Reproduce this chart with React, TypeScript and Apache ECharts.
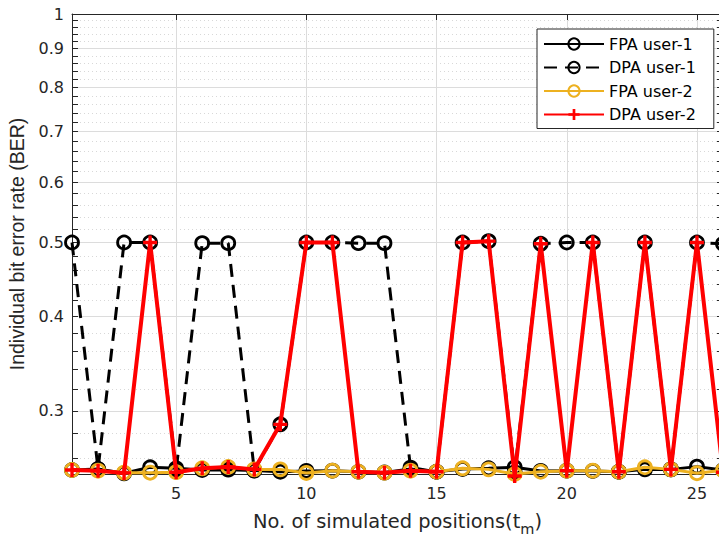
import React, { useEffect, useRef } from 'react';
import * as echarts from 'echarts';

const positions = [1, 2, 3, 4, 5, 6, 7, 8, 9, 10, 11, 12, 13, 14, 15, 16, 17, 18, 19, 20, 21, 22, 23, 24, 25, 26];
const fpaUser1 = [0.2507, 0.2515, 0.2482, 0.2528, 0.2520, 0.2507, 0.2510, 0.2503, 0.2494, 0.2500, 0.2502, 0.2494, 0.2488, 0.2515, 0.2494, 0.2515, 0.2520, 0.2528, 0.2500, 0.2502, 0.2500, 0.2494, 0.2512, 0.2512, 0.2533, 0.2507];
const dpaUser1 = [0.500, 0.2515, 0.500, 0.500, 0.2505, 0.499, 0.499, 0.2505, 0.288, 0.500, 0.500, 0.499, 0.499, 0.2525, 0.2494, 0.500, 0.502, 0.2490, 0.498, 0.500, 0.500, 0.2494, 0.500, 0.2512, 0.500, 0.498];
const fpaUser2 = [0.2507, 0.2502, 0.2487, 0.2487, 0.2491, 0.2520, 0.2530, 0.2512, 0.2512, 0.2485, 0.2502, 0.2494, 0.2487, 0.2502, 0.2494, 0.2520, 0.2512, 0.2477, 0.2494, 0.2502, 0.2502, 0.2494, 0.2528, 0.2512, 0.2483, 0.2505];
const dpaUser2 = [0.2507, 0.2502, 0.2485, 0.500, 0.2490, 0.2520, 0.2530, 0.2512, 0.288, 0.500, 0.500, 0.2494, 0.2487, 0.2502, 0.2494, 0.500, 0.502, 0.2462, 0.498, 0.2502, 0.500, 0.2494, 0.500, 0.2512, 0.500, 0.2490];

const seriesNames = ['FPA user-1', 'DPA user-1', 'FPA user-2', 'DPA user-2'];
const xTicks = [5, 10, 15, 20, 25];
const yMajorTicks = [0.3, 0.4, 0.5, 0.6, 0.7, 0.8, 0.9, 1];
const yMinorTicks = [0.26, 0.28, 0.3, 0.32, 0.34, 0.36, 0.38, 0.4, 0.42, 0.44, 0.46, 0.48, 0.5, 0.52, 0.54, 0.56, 0.58, 0.6, 0.62, 0.64, 0.66, 0.68, 0.7, 0.72, 0.74, 0.76, 0.78, 0.8, 0.82, 0.84, 0.86, 0.88, 0.9, 0.92, 0.94, 0.96, 0.98, 1];

const X_MIN = 1;
const X_MAX = 26;
const Y_MIN = 0.2477;
const Y_MAX = 1;

const AXIS_COLOR = '#262626';
const PLUS = 'path://M3.8,0H6.2V3.8H10V6.2H6.2V10H3.8V6.2H0V3.8H3.8Z';

export default function App() {
  const ref = useRef<HTMLDivElement>(null);

  useEffect(() => {
    if (!ref.current) return;
    const chart = echarts.init(ref.current, null, { renderer: 'svg' });

    const pair = (vals: number[]) => positions.map((x, i) => [x, vals[i]]);
    const gridRect = { left: 72, right: 7, top: 14, bottom: 64, containLabel: false, outerBoundsMode: 'none' };

    const option: any = {
      animation: false,
      backgroundColor: '#ffffff',
      grid: [{ ...gridRect }, { ...gridRect }],
      xAxis: [
        {
          type: 'value', gridIndex: 0, position: 'bottom', min: X_MIN, max: X_MAX,
          axisLine: { show: true, onZero: false, lineStyle: { color: AXIS_COLOR, width: 1 } },
          axisTick: { show: true, inside: true, length: 6, customValues: xTicks, lineStyle: { color: AXIS_COLOR } },
          axisLabel: { show: true, customValues: xTicks, margin: 11, fontFamily: 'DejaVu Sans', fontSize: 16, color: AXIS_COLOR },
          splitLine: { show: true, lineStyle: { color: '#dcdcdc', width: 1 } },
          name: '{a|No. of simulated positions(t}{b|m}{a|)}',
          nameLocation: 'middle',
          nameGap: 32,
          nameTextStyle: {
            rich: {
              a: { fontFamily: 'DejaVu Sans', fontSize: 19.4, color: AXIS_COLOR, lineHeight: 30, verticalAlign: 'middle' },
              b: { fontFamily: 'DejaVu Sans', fontSize: 14.5, color: AXIS_COLOR, verticalAlign: 'bottom' },
            },
          },
        },
        {
          type: 'value', gridIndex: 0, position: 'top', min: X_MIN, max: X_MAX,
          axisLine: { show: true, onZero: false, lineStyle: { color: AXIS_COLOR, width: 1 } },
          axisTick: { show: true, inside: true, length: 6, customValues: xTicks, lineStyle: { color: AXIS_COLOR } },
          axisLabel: { show: false },
          splitLine: { show: false },
        },
        {
          type: 'value', gridIndex: 1, position: 'bottom', min: X_MIN, max: X_MAX,
          axisLine: { show: false }, axisTick: { show: false }, axisLabel: { show: false }, splitLine: { show: false },
        },
      ],
      yAxis: [
        {
          type: 'log', logBase: 10, gridIndex: 0, position: 'left', min: Y_MIN, max: Y_MAX,
          axisLine: { show: true, onZero: false, lineStyle: { color: AXIS_COLOR, width: 1 } },
          axisTick: { show: true, inside: true, length: 6, customValues: yMinorTicks, lineStyle: { color: AXIS_COLOR } },
          axisLabel: {
            show: true, customValues: yMajorTicks, margin: 8, fontFamily: 'DejaVu Sans', fontSize: 16, color: AXIS_COLOR,
            formatter: (v: number) => String(Math.round(v * 10) / 10),
          },
          splitLine: { show: true, lineStyle: { color: '#d8d8d8', width: 1, type: [1, 3] } },
          name: 'Individual bit error rate (BER)',
          nameLocation: 'middle',
          nameGap: 45,
          nameRotate: 90,
          nameTextStyle: { fontFamily: 'Liberation Sans', fontSize: 19.5, color: AXIS_COLOR },
        },
        {
          type: 'log', logBase: 10, gridIndex: 0, position: 'right', min: Y_MIN, max: Y_MAX,
          axisLine: { show: true, onZero: false, lineStyle: { color: AXIS_COLOR, width: 1 } },
          axisTick: { show: true, inside: true, length: 6, customValues: yMinorTicks, lineStyle: { color: AXIS_COLOR } },
          axisLabel: { show: false },
          splitLine: { show: false },
        },
        {
          type: 'log', logBase: 10, gridIndex: 1, position: 'left', min: Y_MIN, max: Y_MAX,
          axisLine: { show: false },
          axisTick: { show: false, customValues: yMajorTicks },
          axisLabel: { show: false },
          splitLine: { show: true, lineStyle: { color: '#dcdcdc', width: 1 } },
        },
      ],
      legend: {
        orient: 'vertical',
        left: 537,
        top: 29,
        padding: [7, 18, 6, 6],
        itemWidth: 60,
        itemHeight: 14,
        itemGap: 7.5,
        backgroundColor: '#ffffff',
        borderColor: AXIS_COLOR,
        borderWidth: 1,
        borderRadius: 0,
        textStyle: { fontFamily: 'DejaVu Sans', fontSize: 16, color: '#000000', lineHeight: 14 },
        data: seriesNames,
      },
      series: [
        {
          name: seriesNames[0], type: 'line', xAxisIndex: 0, yAxisIndex: 0, data: pair(fpaUser1),
          symbol: 'circle', symbolSize: 13, showAllSymbol: true, clip: false, z: 2,
          lineStyle: { color: '#000000', width: 3 },
          itemStyle: { color: 'rgba(0,0,0,0)', borderColor: '#000000', borderWidth: 2.8 },
          emphasis: { disabled: true },
        },
        {
          name: seriesNames[1], type: 'line', xAxisIndex: 0, yAxisIndex: 0, data: pair(dpaUser1),
          symbol: 'circle', symbolSize: 13, showAllSymbol: true, clip: false, z: 3,
          lineStyle: { color: '#000000', width: 3, type: [13, 8] },
          itemStyle: { color: 'rgba(0,0,0,0)', borderColor: '#000000', borderWidth: 2.8, borderType: 'solid' },
          emphasis: { disabled: true },
        },
        {
          name: seriesNames[2], type: 'line', xAxisIndex: 0, yAxisIndex: 0, data: pair(fpaUser2),
          symbol: 'circle', symbolSize: 13, showAllSymbol: true, clip: false, z: 4,
          lineStyle: { color: '#EDB120', width: 3 },
          itemStyle: { color: 'rgba(0,0,0,0)', borderColor: '#EDB120', borderWidth: 2.8 },
          emphasis: { disabled: true },
        },
        {
          name: seriesNames[3], type: 'line', xAxisIndex: 0, yAxisIndex: 0, data: pair(dpaUser2),
          symbol: PLUS, symbolSize: 14, symbolKeepAspect: true, showAllSymbol: true, clip: false, z: 5,
          lineStyle: { color: '#FF0000', width: 4 },
          itemStyle: { color: '#FF0000', borderWidth: 0 },
          emphasis: { disabled: true },
        },
      ],
    };

    chart.setOption(option);
    return () => chart.dispose();
  }, []);

  return (
    <div
      ref={ref}
      style={{ position: 'fixed', left: 0, top: 0, width: 730, height: 538, background: '#ffffff' }}
    />
  );
}
